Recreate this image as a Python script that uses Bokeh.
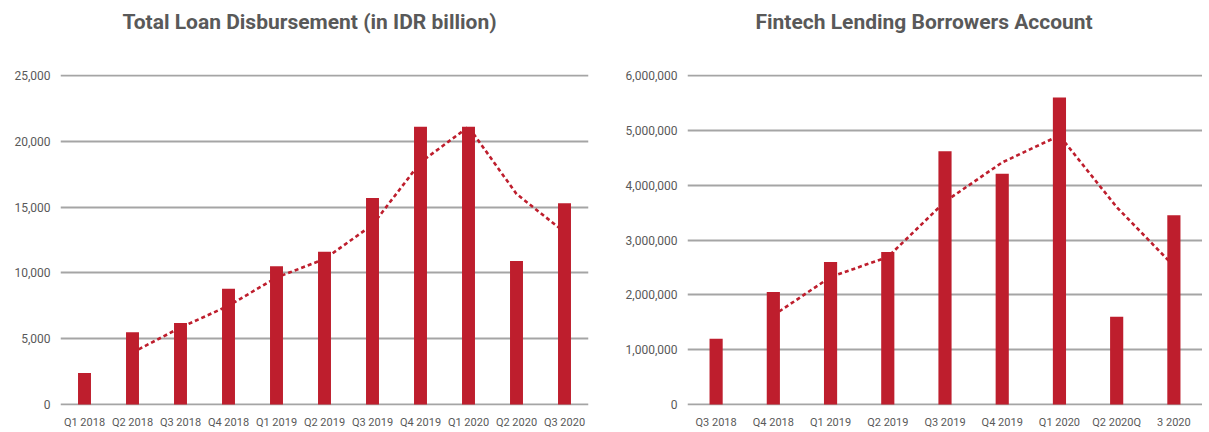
from bokeh.plotting import figure
from bokeh.models import FactorRange, Range1d, NumeralTickFormatter, SingleIntervalTicker, Title
from bokeh.layouts import row
from bokeh.embed import file_html
from bokeh.resources import INLINE

# ---- Data: left chart ----
loan_quarters = ["Q1 2018", "Q2 2018", "Q3 2018", "Q4 2018", "Q1 2019", "Q2 2019",
                 "Q3 2019", "Q4 2019", "Q1 2020", "Q2 2020", "Q3 2020"]
loan_values = [2400, 5500, 6200, 8800, 10500, 11600, 15700, 21100, 21100, 10900, 15300]
# 2-period moving-average trendline (starts at 2nd quarter)
loan_trend_quarters = loan_quarters[1:]
loan_trend = [3950, 5850, 7500, 9650, 11050, 13650, 18400, 21100, 16000, 13100]

# ---- Data: right chart ----
acct_quarters = ["Q3 2018", "Q4 2018", "Q1 2019", "Q2 2019", "Q3 2019", "Q4 2019",
                 "Q1 2020", "Q2 2020Q", "3 2020"]
acct_values = [1200000, 2050000, 2600000, 2780000, 4620000, 4210000, 5600000, 1600000, 3450000]
acct_trend_quarters = acct_quarters[1:]
acct_trend = [1625000, 2325000, 2690000, 3700000, 4415000, 4905000, 3600000, 2525000]

BAR = "#BE1E2D"
TXT = "#595959"
GRID = "#A5A5A5"


def make_fig(title, cats, vals, tcats, tvals, ymax, step, width, left_border, right_border,
             bar_w, title_off):
    pad = ymax * 0.003
    p = figure(x_range=FactorRange(*cats, range_padding=0),
               y_range=Range1d(-pad, ymax + pad),
               width=width, height=432, output_backend="svg", toolbar_location=None,
               min_border_left=left_border, min_border_right=right_border,
               min_border_top=74, min_border_bottom=27)
    p.title = None
    # spacer between title and plot area (closest to the frame)
    p.add_layout(Title(text=" ", text_font_size="21px", standoff=11), "above")
    p.add_layout(Title(text=title, text_font="Roboto", text_font_size="21px",
                       text_font_style="bold", text_color=TXT, align="left",
                       offset=title_off, standoff=9), "above")
    p.outline_line_color = None
    p.background_fill_color = "white"

    p.line(x=tcats, y=tvals, line_color=BAR, line_width=2.6, line_dash="4 3")
    p.vbar(x=cats, top=vals, width=bar_w, color=BAR, line_color=None)

    p.xgrid.grid_line_color = None
    p.ygrid.grid_line_color = GRID
    p.ygrid.grid_line_width = 1.8
    p.yaxis.ticker = SingleIntervalTicker(interval=step)
    p.yaxis.formatter = NumeralTickFormatter(format="0,0")
    for ax in (p.xaxis, p.yaxis):
        ax.axis_line_color = None
        ax.major_tick_line_color = None
        ax.minor_tick_line_color = None
        ax.major_tick_out = 0
        ax.major_tick_in = 0
        ax.minor_tick_out = 0
        ax.major_label_text_font = "Roboto"
        ax.major_label_text_color = TXT
    p.xaxis.major_label_text_font_size = "11px"
    p.yaxis.major_label_text_font_size = "12px"
    p.yaxis.major_label_standoff = 10
    p.xaxis.major_label_standoff = 10
    return p


p1 = make_fig("Total Loan Disbursement (in IDR billion)", loan_quarters, loan_values,
              loan_trend_quarters, loan_trend, 25000, 5000, 600, 60, 12, 0.27, 62)
p2 = make_fig("Fintech Lending Borrowers Account", acct_quarters, acct_values,
              acct_trend_quarters, acct_trend, 6000000, 1000000, 602, 87, 0, 0.23, 68)

layout = row(p1, p2)
open("out.html", "w").write(file_html(layout, INLINE))
